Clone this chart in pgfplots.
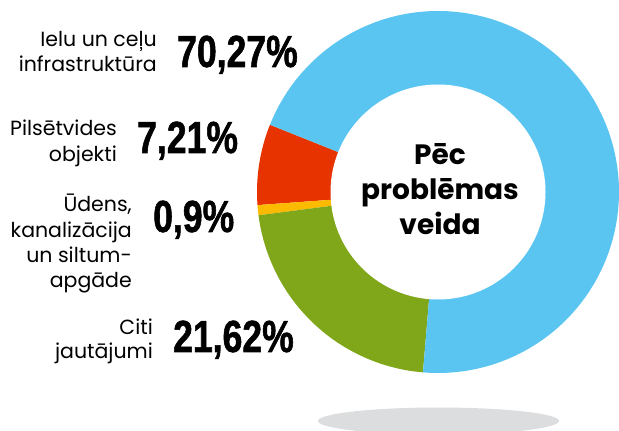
\documentclass[border=0pt]{standalone}
\usepackage{pgfplots}
\pgfplotsset{compat=1.18}
\usepackage{fontspec}
\setmainfont{Poppins}
\newfontfamily\numfont[FakeStretch=0.79,FakeBold=1.2]{Liberation Sans}
\definecolor{cblue}{RGB}{91,197,241}
\definecolor{cred}{RGB}{230,51,0}
\definecolor{corange}{RGB}{252,186,0}
\definecolor{cgreen}{RGB}{128,166,26}
\definecolor{cshadow}{RGB}{220,221,223}
% shares (%)
\def\vRed{7.21}
\def\vOrange{0.9}
\def\vGreen{21.62}
\def\vBlue{70.27}
\def\startangle{158.2}
\pgfmathsetmacro\aA{\startangle}
\pgfmathsetmacro\aB{\aA+3.6*\vRed}
\pgfmathsetmacro\aC{\aB+3.6*\vOrange}
\pgfmathsetmacro\aD{\aC+3.6*\vGreen}
\pgfmathsetmacro\aE{\aD+3.6*\vBlue}
\def\cx{438}
\def\cy{239}
\def\R{181}
\def\r{107.5}
\newcommand{\lab}[3]{\node[anchor=base east,inner sep=0pt,font=\fontsize{20.5bp}{24bp}\selectfont] at (axis cs:#1,431-#2) {#3};}
\newcommand{\pct}[3]{\node[anchor=base west,inner sep=0pt,font=\numfont\bfseries\fontsize{45bp}{50bp}\selectfont] at (axis cs:#1,431-#2) {#3};}
\newcommand{\ttl}[2]{\node[anchor=base,inner sep=0pt,font=\bfseries\fontsize{28bp}{34bp}\selectfont] at (axis cs:440,431-#1) {#2};}
\begin{document}
\begin{tikzpicture}
\begin{axis}[hide axis, scale only axis, width=619bp, height=431bp,
  xmin=0, xmax=619, ymin=0, ymax=431, clip=true]
\path (axis cs:0,0) rectangle (axis cs:619,431);
% shadow
\addplot[fill=cshadow, draw=none, domain=0:360, samples=120, variable=\t]
  ({438.5+120.5*cos(\t)}, {10+13.5*sin(\t)}) -- cycle;
% slices
\addplot[fill=cred, draw=none, domain=\aA:\aB, samples=40, variable=\t]
  ({\cx+\R*cos(\t)}, {\cy+\R*sin(\t)}) -- (axis cs:\cx,\cy) -- cycle;
\addplot[fill=corange, draw=none, domain=\aB:\aC, samples=10, variable=\t]
  ({\cx+\R*cos(\t)}, {\cy+\R*sin(\t)}) -- (axis cs:\cx,\cy) -- cycle;
\addplot[fill=cgreen, draw=none, domain=\aC:\aD, samples=80, variable=\t]
  ({\cx+\R*cos(\t)}, {\cy+\R*sin(\t)}) -- (axis cs:\cx,\cy) -- cycle;
\addplot[fill=cblue, draw=none, domain=\aD:\aE, samples=200, variable=\t]
  ({\cx+\R*cos(\t)}, {\cy+\R*sin(\t)}) -- (axis cs:\cx,\cy) -- cycle;
% hole
\addplot[fill=white, draw=none, domain=0:360, samples=200, variable=\t]
  ({\cx+\r*cos(\t)}, {\cy+\r*sin(\t)}) -- cycle;
% centre title
\ttl{165}{Pēc}
\ttl{200}{problēmas}
\ttl{235}{veida}
% labels
\lab{157}{47}{Ielu un ceļu}
\lab{157}{72}{infrastruktūra}
\pct{177}{67}{70,27\%}
\lab{117}{136}{Pilsētvides}
\lab{117}{162}{objekti}
\pct{137}{153}{7,21\%}
\lab{132}{212}{Ūdens,}
\lab{132}{238}{kanalizācija}
\lab{132}{263}{un siltum-}
\lab{132}{288}{apgāde}
\pct{153}{232}{0,9\%}
\lab{153}{335}{Citi}
\lab{153}{359}{jautājumi}
\pct{173}{352}{21,62\%}
\end{axis}
\end{tikzpicture}
\end{document}
